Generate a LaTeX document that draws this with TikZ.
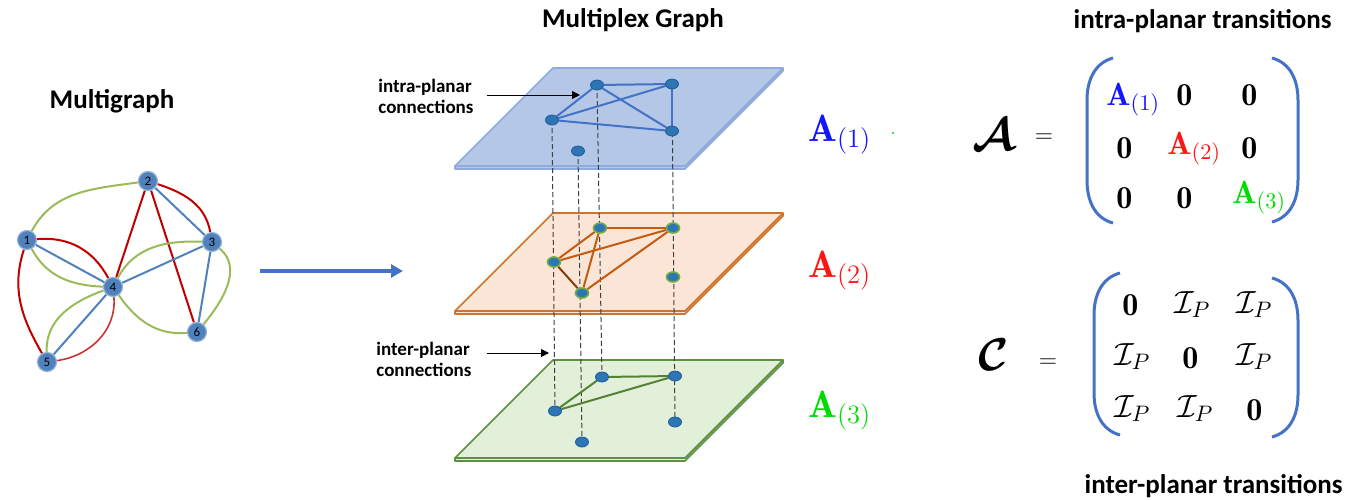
\RequirePackage{fix-cm}
\documentclass[tikz,border=0pt]{standalone}
\usepackage{fontspec}
\setsansfont{Carlito}
\usepackage{bm}
\usetikzlibrary{arrows.meta,shapes.geometric}
\pgfdeclarelayer{bg}
\pgfdeclarelayer{mid}
\pgfsetlayers{bg,mid,main}
\definecolor{mblue}{HTML}{4F81BD}
\definecolor{mgreen}{HTML}{9BBB59}
\definecolor{mred}{HTML}{C00000}
\definecolor{pafill}{HTML}{B4C7E7}
\definecolor{padraw}{HTML}{8FAADC}
\definecolor{pbfill}{HTML}{FBE5D6}
\definecolor{pbdraw}{HTML}{D0742C}
\definecolor{pcfill}{HTML}{E2F0D9}
\definecolor{pcdraw}{HTML}{5E9142}
\definecolor{pnfill}{HTML}{2E75B6}
\definecolor{pndraw}{HTML}{1F5A96}
\definecolor{pngreen}{HTML}{70AD47}
\definecolor{eblue}{HTML}{4472C4}
\definecolor{eorange}{HTML}{C55A11}
\definecolor{ebrown}{HTML}{843C0C}
\definecolor{egreen}{HTML}{548235}
\definecolor{lblue}{RGB}{20,20,255}
\definecolor{lred}{RGB}{255,20,20}
\definecolor{lgreen}{RGB}{0,220,0}
\newcommand\myplane[3]{%
  \filldraw[fill=#2,draw=#3,line width=0.8pt,line join=round]
    (455,#1+101) -- (685,#1+101) -- (783,#1+3) -- (783,#1) -- (685,#1+98) -- (455,#1+98) -- cycle;
  \filldraw[fill=#2,draw=#3,line width=0.8pt,line join=round]
    (553,#1) -- (783,#1) -- (685,#1+98) -- (455,#1+98) -- cycle;}
\begin{document}
\begin{tikzpicture}[x=0.5pt,y=-0.5pt,
  mnode/.style={circle,fill=mblue,draw=mblue!60!white,line width=0.6pt,minimum size=9.5pt,inner sep=0pt,
    font=\sffamily\fontsize{6.5}{7}\selectfont},
  pnode/.style={ellipse,fill=pnfill,draw=pndraw,line width=0.4pt,minimum width=6.5pt,minimum height=5pt,inner sep=0pt},
  pnodeg/.style={pnode,draw=pngreen,line width=0.8pt},
  gedge/.style={mgreen,line width=1pt},
  redge/.style={mred,line width=1pt},
  bedge/.style={mblue,line width=1pt},
  title/.style={font=\sffamily\bfseries\fontsize{13.5}{16}\selectfont,inner sep=0pt},
  small/.style={font=\sffamily\bfseries\fontsize{9.5}{10.5}\selectfont,align=left,inner sep=0pt},
  vlink/.style={dashed,black!75,line width=0.5pt,dash pattern=on 2.5pt off 1.5pt},
  pointer/.style={-{Triangle[length=4pt,width=4pt]},line width=0.5pt,black},
  paren/.style={eblue,line width=1.5pt},
  ent/.style={inner sep=0pt,anchor=base west,font=\fontsize{16}{18}\selectfont},
  plab/.style={inner sep=0pt,anchor=base west,font=\fontsize{19}{21}\selectfont}]
\useasboundingbox (0,0) rectangle (1346,500);

% titles
\node[title,anchor=base] (t1) at (112,108) {Multigraph};
\node[title,anchor=base] (t2) at (633,27) {Multiplex Graph};
\node[title,anchor=base east] (t3) at (1332,28) {intra-planar transitions};
\node[title,anchor=base east] (t4) at (1343,493) {inter-planar transitions};

% multigraph
\node[mnode] (m1) at (27,240) {1};
\node[mnode] (m2) at (148,181) {2};
\node[mnode] (m3) at (212,242) {3};
\node[mnode] (m4) at (113,287) {4};
\node[mnode] (m5) at (47,362) {5};
\node[mnode] (m6) at (197,332) {6};
\begin{pgfonlayer}{mid}
\draw[gedge] (m1) to[out=62,in=188] (m2);
\draw[redge] (m2) to[out=-18,in=100] (m3);
\draw[bedge] (m2) -- (m3);
\draw[redge] (m2) -- (m4);
\draw[redge] (m2) -- (m6);
\draw[redge] (m1) to[out=5,in=118] (m4);
\draw[bedge] (m1) -- (m4);
\draw[gedge] (m1) to[out=-62,in=178] (m4);
\draw[redge] (m1) to[out=-108,in=120] (m5);
\draw[bedge] (m4) -- (m3);
\draw[gedge] (m4) to[out=62,in=178] (m3);
\draw[bedge] (m3) -- (m6);
\draw[gedge] (m3) to[out=-40,in=50] (m6);
\draw[gedge] (m4) to[out=-55,in=185] (m6);
\draw[bedge] (m4) -- (m5);
\draw[gedge] (m4) to[out=200,in=92] (m5);
\draw[mred!80,line width=0.8pt] (m4) to[out=-85,in=8] (m5);
\end{pgfonlayer}

% main arrow
\coordinate (ar1) at (260,271);
\coordinate (ar2) at (403,271);
\draw[eblue,line width=2pt,-{Triangle[length=6pt,width=6.5pt]}] (ar1) -- (ar2);

% planes
\begin{pgfonlayer}{bg}
\myplane{68}{pafill}{padraw}
\myplane{213}{pbfill}{pbdraw}
\myplane{360}{pcfill}{pcdraw}
\end{pgfonlayer}

% plane nodes
\node[pnode] (a1) at (597,85) {};
\node[pnode] (b1) at (672,84) {};
\node[pnode] (c1) at (552,120) {};
\node[pnode] (d1) at (672,131) {};
\node[pnode] (e1) at (578,151) {};
\node[pnodeg] (a2) at (600,228) {};
\node[pnodeg] (b2) at (673,228) {};
\node[pnodeg] (c2) at (554,262) {};
\node[pnodeg] (d2) at (673,277) {};
\node[pnodeg] (e2) at (582,293) {};
\node[pnode] (a3) at (602,377) {};
\node[pnode] (b3) at (675,376) {};
\node[pnode] (c3) at (555,411) {};
\node[pnode] (d3) at (675,422) {};
\node[pnode] (e3) at (582,442) {};

\begin{pgfonlayer}{mid}
\draw[vlink] (c1.center) -- (c3.center);
\draw[vlink] (e1.center) -- (e3.center);
\draw[vlink] (a1.center) -- (a3.center);
\draw[vlink] (b1.center) -- (d3.center);
\begin{scope}[eblue,line width=1pt]
\draw (a1) -- (b1); \draw (a1) -- (c1); \draw (a1) -- (d1);
\draw (c1) -- (b1); \draw (c1) -- (d1); \draw (b1) -- (d1);
\end{scope}
\begin{scope}[eorange,line width=1pt]
\draw (a2) -- (b2); \draw (c2) -- (a2); \draw (c2) -- (b2);
\draw (e2) -- (a2); \draw (e2) -- (b2);
\draw[ebrown] (c2) -- (e2);
\end{scope}
\begin{scope}[egreen,line width=1pt]
\draw (c3) -- (a3); \draw (a3) -- (b3); \draw (c3) -- (b3);
\end{scope}
\end{pgfonlayer}

% pointer labels
\node[small,anchor=base west] (l1) at (378,113) {intra-planar\\connections};
\coordinate (p1a) at (487,95);
\coordinate (p1b) at (580,95);
\draw[pointer] (p1a) -- (p1b);
\node[small,anchor=base west] (l2) at (376,376) {inter-planar\\connections};
\coordinate (p2a) at (487,353);
\coordinate (p2b) at (549,353);
\draw[pointer] (p2a) -- (p2b);

% plane labels
\node[plab,text=lblue] (A1) at (808,141) {$\mathbf{A}_{(1)}$};
\node[plab,text=lred] (A2) at (808,277) {$\mathbf{A}_{(2)}$};
\node[plab,text=lgreen] (A3) at (808,417) {$\mathbf{A}_{(3)}$};
\fill[lgreen] (893,133) circle (0.6pt);

% matrix A
\node[inner sep=0pt,anchor=base west,font=\fontsize{23}{25}\selectfont] (calA) at (972,150) {$\bm{\mathcal{A}}$};
\node[inner sep=0pt,font=\fontsize{12}{14}\selectfont] (eqA) at (1044,138) {$=$};
\node[ent,text=lblue] (x11) at (1106,105) {$\mathbf{A}_{(1)}$};
\node[ent] (x12) at (1176,105) {$\mathbf{0}$};
\node[ent] (x13) at (1241,105) {$\mathbf{0}$};
\node[ent] (x21) at (1116,158) {$\mathbf{0}$};
\node[ent,text=lred] (x22) at (1167,154) {$\mathbf{A}_{(2)}$};
\node[ent] (x23) at (1241,158) {$\mathbf{0}$};
\node[ent] (x31) at (1116,208) {$\mathbf{0}$};
\node[ent] (x32) at (1176,208) {$\mathbf{0}$};
\node[ent,text=lgreen] (x33) at (1232,203) {$\mathbf{A}_{(3)}$};
\draw[paren] (1113,58) to[out=195,in=90] (1087,100) -- (1087,180) to[out=-90,in=165] (1113,223);
\draw[paren] (1272,58) to[out=-15,in=90] (1298,100) -- (1298,180) to[out=-90,in=15] (1272,222);

% matrix C
\node[inner sep=0pt,anchor=base west,font=\fontsize{23}{25}\selectfont] (calC) at (978,370) {$\bm{\mathcal{C}}$};
\node[inner sep=0pt,font=\fontsize{12}{14}\selectfont] (eqC) at (1048,363) {$=$};
\node[ent] (y11) at (1122,315) {$\mathbf{0}$};
\node[ent] (y12) at (1174,313) {$\mathcal{I}_P$};
\node[ent] (y13) at (1236,313) {$\mathcal{I}_P$};
\node[ent] (y21) at (1114,365) {$\mathcal{I}_P$};
\node[ent] (y22) at (1182,368) {$\mathbf{0}$};
\node[ent] (y23) at (1236,365) {$\mathcal{I}_P$};
\node[ent] (y31) at (1114,417) {$\mathcal{I}_P$};
\node[ent] (y32) at (1177,417) {$\mathcal{I}_P$};
\node[ent] (y33) at (1246,420) {$\mathbf{0}$};
\draw[paren] (1120,273) to[out=195,in=90] (1094,315) -- (1094,393) to[out=-90,in=165] (1120,435);
\draw[paren] (1272,278) to[out=-15,in=90] (1298,320) -- (1298,395) to[out=-90,in=15] (1272,437);
\end{tikzpicture}
\end{document}
